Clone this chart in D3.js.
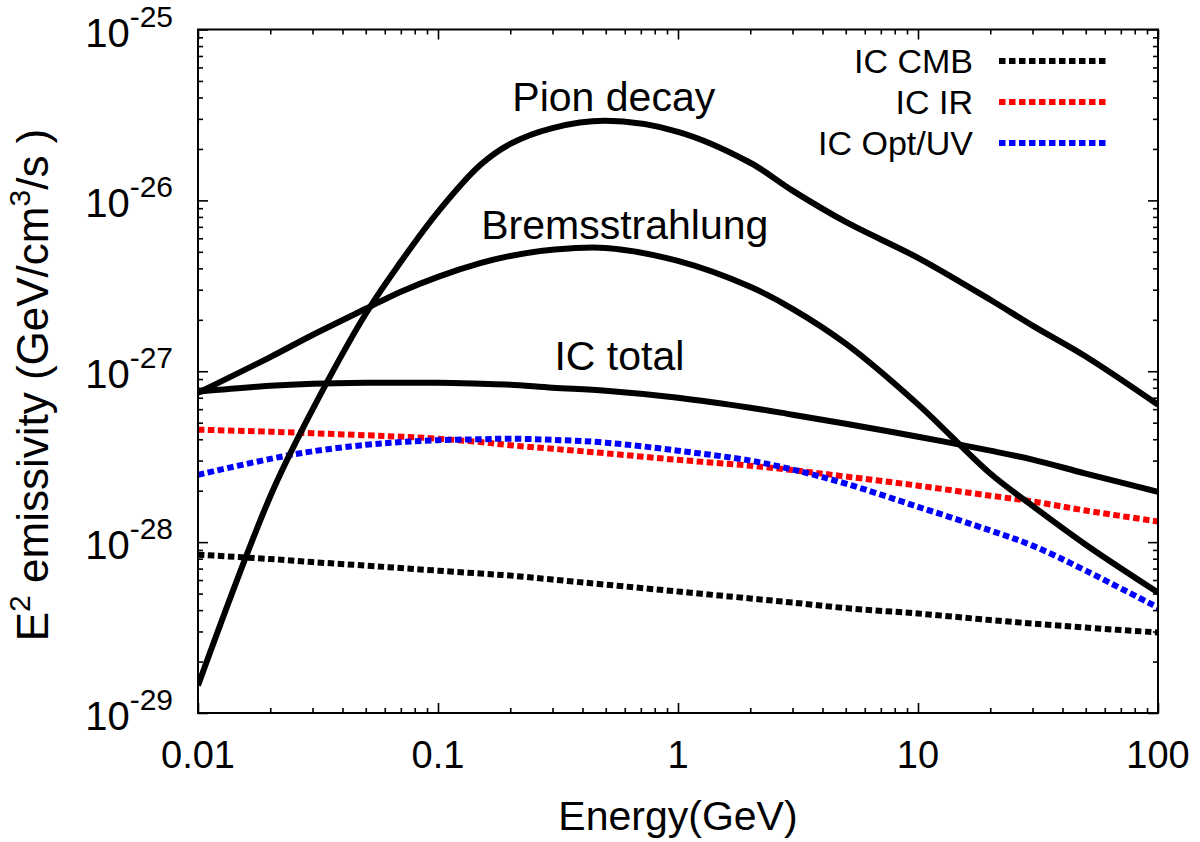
<!DOCTYPE html>
<html>
<head>
<meta charset="utf-8">
<script src="https://cdn.jsdelivr.net/npm/d3@7"></script>
<style>
  body { margin: 0; background: #fff; }
  svg { display: block; }
  text { font-family: "Liberation Sans", Arial, Helvetica, sans-serif; fill: #000; }
</style>
</head>
<body>
<svg id="chart" width="1200" height="842"></svg>
<script>
// energies (GeV) shared by every curve
var energy = [0.01, 0.02, 0.03, 0.05, 0.07, 0.1, 0.15, 0.2, 0.3, 0.5, 1, 2, 3, 5, 10, 20, 30, 50, 100];

// E^2 emissivity (GeV/cm^3/s)
var pion    = [1.45e-29, 1.85e-28, 5.96e-28, 2.17e-27, 4.37e-27, 8.57e-27, 1.61e-26, 2.14e-26, 2.65e-26, 2.92e-26, 2.52e-26, 1.66e-26, 1.14e-26, 7.48e-27, 4.61e-27, 2.62e-27, 1.85e-27, 1.22e-27, 6.37e-28];
var brems   = [7.48e-28, 1.21e-27, 1.63e-27, 2.32e-27, 2.92e-27, 3.57e-27, 4.29e-27, 4.73e-27, 5.14e-27, 5.27e-27, 4.42e-27, 3.12e-27, 2.32e-27, 1.45e-27, 6.40e-28, 2.52e-28, 1.63e-28, 9.66e-29, 5.07e-29];
var icTotal = [7.59e-28, 8.22e-28, 8.45e-28, 8.57e-28, 8.57e-28, 8.57e-28, 8.45e-28, 8.34e-28, 8.01e-28, 7.69e-28, 7.00e-28, 6.12e-28, 5.57e-28, 4.93e-28, 4.14e-28, 3.43e-28, 3.04e-28, 2.52e-28, 1.97e-28];
var icCMB   = [8.45e-29, 7.96e-29, 7.64e-29, 7.29e-29, 7.05e-29, 6.81e-29, 6.55e-29, 6.37e-29, 6.04e-29, 5.64e-29, 5.14e-29, 4.68e-29, 4.43e-29, 4.11e-29, 3.82e-29, 3.50e-29, 3.34e-29, 3.16e-29, 2.96e-29];
var icIR    = [4.55e-28, 4.43e-28, 4.34e-28, 4.22e-28, 4.14e-28, 4.03e-28, 3.85e-28, 3.69e-28, 3.52e-28, 3.31e-28, 3.03e-28, 2.80e-28, 2.64e-28, 2.42e-28, 2.14e-28, 1.87e-28, 1.73e-28, 1.53e-28, 1.32e-28];
var icOpt   = [2.48e-28, 3.07e-28, 3.40e-28, 3.71e-28, 3.85e-28, 3.95e-28, 4.00e-28, 4.03e-28, 3.97e-28, 3.82e-28, 3.43e-28, 3.00e-28, 2.66e-28, 2.20e-28, 1.61e-28, 1.17e-28, 9.54e-29, 6.81e-29, 4.14e-29];

var xTicks = [0.01, 0.1, 1, 10, 100];
var xTickLabels = ["0.01", "0.1", "1", "10", "100"];
var yTicks = [1e-29, 1e-28, 1e-27, 1e-26, 1e-25];
var yTickExps = ["-29", "-28", "-27", "-26", "-25"];

var solidSeries = [
    {name: "Pion decay", values: pion},
    {name: "Bremsstrahlung", values: brems},
    {name: "IC total", values: icTotal}
];
var dottedSeries = [
    {name: "IC CMB", values: icCMB, color: "#000000"},
    {name: "IC IR", values: icIR, color: "#ff0000"},
    {name: "IC Opt/UV", values: icOpt, color: "#0000ff"}
];
// label anchors in data units (centre energy, value just under the text)
var curveLabels = [
    {text: "Pion decay", e: 0.54, v: 2.92e-26, dy: -10},
    {text: "Bremsstrahlung", e: 0.60, v: 5.27e-27, dy: -9},
    {text: "IC total", e: 0.57, v: 8.1e-28, dy: -17}
];

var plotLeft = 198, plotRight = 1158, plotTop = 29.5, plotBottom = 713;

var svg = d3.select("#chart");

var x = d3.scaleLog().domain([0.01, 100]).range([plotLeft, plotRight]);
var y = d3.scaleLog().domain([1e-29, 1e-25]).range([plotBottom, plotTop]);

function minorTicks(scale) {
    var d = scale.domain(), out = [];
    for (var p = Math.round(Math.log10(d[0])); p < Math.round(Math.log10(d[1])); p++) {
        for (var m = 2; m <= 9; m++) out.push(m * Math.pow(10, p));
    }
    return out;
}

svg.append("clipPath").attr("id", "plotclip")
    .append("rect")
    .attr("x", plotLeft).attr("y", plotTop)
    .attr("width", plotRight - plotLeft).attr("height", plotBottom - plotTop);

// ticks on all four sides, pointing in
function tickAxis(axis, scale, values, size, transform) {
    svg.append("g")
        .attr("class", "ticks")
        .attr("transform", transform)
        .call(axis(scale).tickValues(values).tickSize(-size).tickFormat(""))
        .call(function(g) {
            g.select(".domain").remove();
            g.selectAll("line").attr("stroke", "#000").attr("stroke-width", 1.6);
        });
}
tickAxis(d3.axisBottom, x, xTicks, 10, "translate(0," + plotBottom + ")");
tickAxis(d3.axisBottom, x, minorTicks(x), 5, "translate(0," + plotBottom + ")");
tickAxis(d3.axisTop, x, xTicks, 10, "translate(0," + plotTop + ")");
tickAxis(d3.axisTop, x, minorTicks(x), 5, "translate(0," + plotTop + ")");
tickAxis(d3.axisLeft, y, yTicks, 10, "translate(" + plotLeft + ",0)");
tickAxis(d3.axisLeft, y, minorTicks(y), 5, "translate(" + plotLeft + ",0)");
tickAxis(d3.axisRight, y, yTicks, 10, "translate(" + plotRight + ",0)");
tickAxis(d3.axisRight, y, minorTicks(y), 5, "translate(" + plotRight + ",0)");

// x tick labels
svg.append("g").selectAll("text")
    .data(xTicks)
    .enter().append("text")
    .attr("x", function(d) { return x(d); })
    .attr("y", plotBottom + 55)
    .attr("text-anchor", "middle")
    .style("font-size", "38px")
    .text(function(d, i) { return xTickLabels[i]; });

// y tick labels, 10^n
var yl = svg.append("g").selectAll("text")
    .data(yTicks)
    .enter().append("text")
    .attr("x", plotLeft - 25)
    .attr("y", function(d) { return y(d) + 17; })
    .attr("text-anchor", "end")
    .style("font-size", "40px");
yl.append("tspan").text("10");
yl.append("tspan").attr("dy", -20).style("font-size", "30px")
    .text(function(d, i) { return yTickExps[i]; });

var line = d3.line()
    .x(function(d) { return x(d[0]); })
    .y(function(d) { return y(d[1]); })
    .curve(d3.curveCatmullRom.alpha(0.5));

function pairs(values) {
    return energy.map(function(e, i) { return [e, values[i]]; });
}

var plot = svg.append("g").attr("clip-path", "url(#plotclip)");

plot.selectAll("path.dotted")
    .data(dottedSeries)
    .enter().append("path")
    .attr("class", "dotted")
    .attr("fill", "none")
    .attr("stroke", function(d) { return d.color; })
    .attr("stroke-width", 6)
    .attr("stroke-dasharray", "6.5,3.5")
    .attr("d", function(d) { return line(pairs(d.values)); });

plot.selectAll("path.solid")
    .data(solidSeries)
    .enter().append("path")
    .attr("class", "solid")
    .attr("fill", "none")
    .attr("stroke", "#000")
    .attr("stroke-width", 6)
    .attr("stroke-linejoin", "round")
    .attr("d", function(d) { return line(pairs(d.values)); });

// frame
svg.append("rect")
    .attr("x", plotLeft).attr("y", plotTop)
    .attr("width", plotRight - plotLeft).attr("height", plotBottom - plotTop)
    .attr("fill", "none").attr("stroke", "#000").attr("stroke-width", 2);

// curve names
svg.append("g").selectAll("text")
    .data(curveLabels)
    .enter().append("text")
    .attr("x", function(d) { return x(d.e); })
    .attr("y", function(d) { return y(d.v) + d.dy; })
    .attr("text-anchor", "middle")
    .style("font-size", "41px")
    .text(function(d) { return d.text; });

// legend
var legend = svg.append("g").attr("transform", "translate(973,61)");
var item = legend.selectAll("g")
    .data(dottedSeries)
    .enter().append("g")
    .attr("transform", function(d, i) { return "translate(0," + (i * 41) + ")"; });
item.append("text")
    .attr("x", 0).attr("y", 12)
    .attr("text-anchor", "end")
    .style("font-size", "34px")
    .text(function(d) { return d.name; });
item.append("line")
    .attr("x1", 26).attr("x2", 136)
    .attr("y1", 0).attr("y2", 0)
    .attr("stroke", function(d) { return d.color; })
    .attr("stroke-width", 6)
    .attr("stroke-dasharray", "6.5,3.5");

// axis titles
svg.append("text")
    .attr("x", (plotLeft + plotRight) / 2)
    .attr("y", 830)
    .attr("text-anchor", "middle")
    .style("font-size", "41px")
    .text("Energy(GeV)");

var ytitle = svg.append("text")
    .attr("transform", "translate(48,385) rotate(-90)")
    .attr("text-anchor", "middle")
    .style("font-size", "44px");
ytitle.append("tspan").text("E");
ytitle.append("tspan").attr("dy", -18).style("font-size", "30px").text("2");
ytitle.append("tspan").attr("dy", 18).text(" emissivity (GeV/cm");
ytitle.append("tspan").attr("dy", -18).style("font-size", "30px").text("3");
ytitle.append("tspan").attr("dy", 18).text("/s )");
</script>
</body>
</html>
